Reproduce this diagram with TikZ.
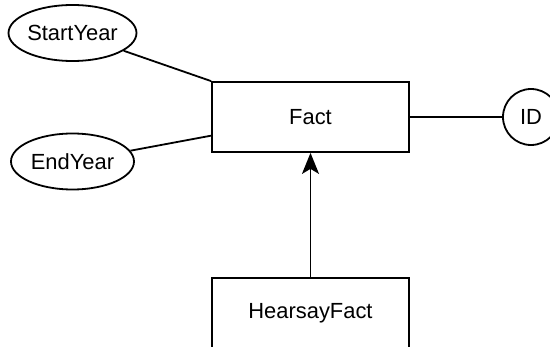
\documentclass[tikz,border=0pt]{standalone}
\usepackage{fontspec}
\setmainfont{Liberation Sans}
\usetikzlibrary{shapes.geometric,arrows.meta,calc}
\begin{document}
\begin{tikzpicture}[x=1pt,y=-1pt,
  every node/.style={font=\fontsize{21.9}{26}\selectfont, inner sep=0pt},
  entity/.style={draw, line width=1.8pt, fill=white, minimum width=197pt, minimum height=70pt},
  attr/.style={draw, ellipse, line width=1.8pt, fill=white, minimum width=123pt, minimum height=56pt},
  keyattr/.style={draw, circle, line width=1.8pt, fill=white, minimum size=56pt},
  link/.style={line width=1.8pt},
  isa/.style={line width=1.8pt, -{Stealth[length=21pt, width=17pt, inset=5pt]}}]
  \clip (0,0) rectangle (550,347);
  \useasboundingbox (0,0) rectangle (550,347);
  % entities
  \node[entity] (fact) at (310.5,117) {Fact};
  \node[entity] (hearsay) at (310.5,313) {HearsayFact};
  % attributes
  \node[attr] (start) at (72.5,33) {StartYear};
  \node[attr] (end) at (72.5,161.5) {EndYear};
  \node[keyattr] (id) at (531,117) {ID};
  % attachment points on the entity border
  \coordinate (fs) at (fact.north west);
  \coordinate (fe) at ($(fact.south west)!0.24!(fact.north west)$);
  % connectors
  \draw[link] (start) -- (fs);
  \draw[link] (end) -- (fe);
  \draw[link] (fact) -- (id);
  \draw[isa] (hearsay) -- (fact);
\end{tikzpicture}
\end{document}
